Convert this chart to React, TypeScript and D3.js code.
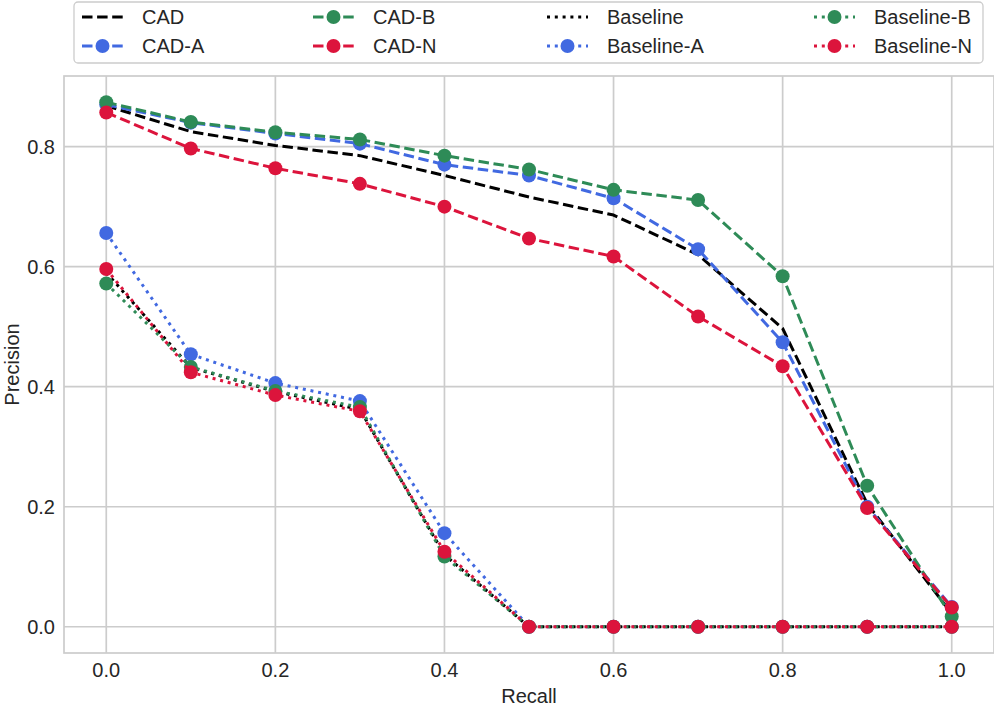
import * as d3 from "d3";

const WIDTH = 994;
const HEIGHT = 707;
const BOUNDS = { left: 64, right: 994, top: 76, bottom: 653 };
const FONT = "'Liberation Sans', Arial, sans-serif";
const TEXT_COLOR = "#262626";
const GRID_COLOR = "#cccccc";

const recall = [0, 0.1, 0.2, 0.3, 0.4, 0.5, 0.6, 0.7, 0.8, 0.9, 1.0];

const cad = [0.868, 0.825, 0.802, 0.785, 0.752, 0.716, 0.686, 0.62, 0.497, 0.205, 0.022];
const cadA = [0.87, 0.84, 0.822, 0.805, 0.77, 0.752, 0.714, 0.629, 0.474, 0.2, 0.033];
const cadB = [0.874, 0.841, 0.824, 0.812, 0.785, 0.762, 0.728, 0.711, 0.584, 0.235, 0.017];
const cadN = [0.857, 0.797, 0.764, 0.738, 0.7, 0.647, 0.617, 0.517, 0.434, 0.198, 0.032];
const baseline = [0.59, 0.432, 0.392, 0.362, 0.12, 0, 0, 0, 0, 0, 0];
const baselineA = [0.656, 0.454, 0.406, 0.376, 0.156, 0, 0, 0, 0, 0, 0];
const baselineB = [0.572, 0.433, 0.393, 0.366, 0.117, 0, 0, 0, 0, 0, 0];
const baselineN = [0.596, 0.424, 0.386, 0.359, 0.125, 0, 0, 0, 0, 0, 0];

const xTicks = [0, 0.2, 0.4, 0.6, 0.8, 1.0];
const yTicks = [0, 0.2, 0.4, 0.6, 0.8];

type Series = {
  name: string;
  values: number[];
  color: string;
  style: "dashed" | "dotted";
  marker: boolean;
};

// plotting order = legend order (column-major, 4 columns)
const series: Series[] = [
  { name: "CAD", values: cad, color: "#000000", style: "dashed", marker: false },
  { name: "CAD-A", values: cadA, color: "#4169E1", style: "dashed", marker: true },
  { name: "CAD-B", values: cadB, color: "#2E8B57", style: "dashed", marker: true },
  { name: "CAD-N", values: cadN, color: "#DC143C", style: "dashed", marker: true },
  { name: "Baseline", values: baseline, color: "#000000", style: "dotted", marker: false },
  { name: "Baseline-A", values: baselineA, color: "#4169E1", style: "dotted", marker: true },
  { name: "Baseline-B", values: baselineB, color: "#2E8B57", style: "dotted", marker: true },
  { name: "Baseline-N", values: baselineN, color: "#DC143C", style: "dotted", marker: true },
];

const LINE_WIDTH = 3;
const DASH = { dashed: "10.5,4.6", dotted: "3,4.8" };
const MARKER_R = 7;

// legend layout
const LEGEND = { left: 74, top: 2, right: 983, bottom: 63 };
const LEGEND_COLS = [82, 313, 547, 814];
const LEGEND_ROWS = [17, 46];
const HANDLE_LEN = 41;

export default function App() {
  const allValues = series.flatMap((s) => s.values);
  const yMin = d3.min(allValues) || 0;
  const yMax = d3.max(allValues) || 1;
  const yPad = (yMax - yMin) * 0.05;

  const xScale = d3
    .scaleLinear()
    .domain([-0.05, 1.05])
    .range([BOUNDS.left, BOUNDS.right]);
  const yScale = d3
    .scaleLinear()
    .domain([yMin - yPad, yMax + yPad])
    .range([BOUNDS.bottom, BOUNDS.top]);

  const line = d3
    .line<number>()
    .x((_, i) => xScale(recall[i]))
    .y((d) => yScale(d));

  const grid = (
    <g>
      {xTicks.map((t) => (
        <line
          key={"gx" + t}
          x1={xScale(t)}
          x2={xScale(t)}
          y1={BOUNDS.top}
          y2={BOUNDS.bottom}
          stroke={GRID_COLOR}
          strokeWidth={1.7}
        />
      ))}
      {yTicks.map((t) => (
        <line
          key={"gy" + t}
          x1={BOUNDS.left}
          x2={BOUNDS.right}
          y1={yScale(t)}
          y2={yScale(t)}
          stroke={GRID_COLOR}
          strokeWidth={1.7}
        />
      ))}
    </g>
  );

  const tickLabels = (
    <g fontFamily={FONT} fontSize={20} fill={TEXT_COLOR}>
      {xTicks.map((t) => (
        <text key={"tx" + t} x={xScale(t)} y={677} textAnchor="middle">
          {t.toFixed(1)}
        </text>
      ))}
      {yTicks.map((t) => (
        <text
          key={"ty" + t}
          x={55}
          y={yScale(t)}
          textAnchor="end"
          dominantBaseline="central"
        >
          {t.toFixed(1)}
        </text>
      ))}
      <text x={(BOUNDS.left + BOUNDS.right) / 2} y={703} textAnchor="middle">
        Recall
      </text>
      <text
        transform={`translate(18.5, ${(BOUNDS.top + BOUNDS.bottom) / 2}) rotate(-90)`}
        textAnchor="middle"
      >
        Precision
      </text>
    </g>
  );

  const lines = series.map((s) => (
    <g key={s.name}>
      <path
        d={line(s.values) || ""}
        fill="none"
        stroke={s.color}
        strokeWidth={LINE_WIDTH}
        strokeDasharray={DASH[s.style]}
        strokeLinejoin="round"
      />
      {s.marker &&
        s.values.map((v, i) => (
          <circle
            key={i}
            cx={xScale(recall[i])}
            cy={yScale(v)}
            r={MARKER_R}
            fill={s.color}
          />
        ))}
    </g>
  ));

  const legendItems = series.map((s, i) => {
    const col = Math.floor(i / 2);
    const row = i % 2;
    const x = LEGEND_COLS[col];
    const y = LEGEND_ROWS[row];
    return (
      <g key={s.name}>
        <line
          x1={x}
          x2={x + HANDLE_LEN}
          y1={y}
          y2={y}
          stroke={s.color}
          strokeWidth={LINE_WIDTH}
          strokeDasharray={DASH[s.style]}
        />
        {s.marker && (
          <circle cx={x + HANDLE_LEN / 2} cy={y} r={MARKER_R} fill={s.color} />
        )}
        <text
          x={x + HANDLE_LEN + 19}
          y={y}
          dominantBaseline="central"
          fontFamily={FONT}
          fontSize={20}
          fill={TEXT_COLOR}
        >
          {s.name}
        </text>
      </g>
    );
  });

  return (
    <svg
      width={WIDTH}
      height={HEIGHT}
      style={{ position: "absolute", left: 0, top: 0, background: "white" }}
    >
      <rect x={0} y={0} width={WIDTH} height={HEIGHT} fill="white" />
      {grid}
      <rect
        x={BOUNDS.left}
        y={BOUNDS.top}
        width={BOUNDS.right - BOUNDS.left}
        height={BOUNDS.bottom - BOUNDS.top}
        fill="none"
        stroke={GRID_COLOR}
        strokeWidth={1.7}
      />
      <defs>
        <clipPath id="plot-clip">
          <rect
            x={BOUNDS.left}
            y={BOUNDS.top}
            width={BOUNDS.right - BOUNDS.left}
            height={BOUNDS.bottom - BOUNDS.top}
          />
        </clipPath>
      </defs>
      <g clipPath="url(#plot-clip)">{lines}</g>
      {tickLabels}
      <rect
        x={LEGEND.left}
        y={LEGEND.top}
        width={LEGEND.right - LEGEND.left}
        height={LEGEND.bottom - LEGEND.top}
        rx={4}
        fill="white"
        fillOpacity={0.8}
        stroke={GRID_COLOR}
        strokeWidth={1.3}
      />
      {legendItems}
    </svg>
  );
}
